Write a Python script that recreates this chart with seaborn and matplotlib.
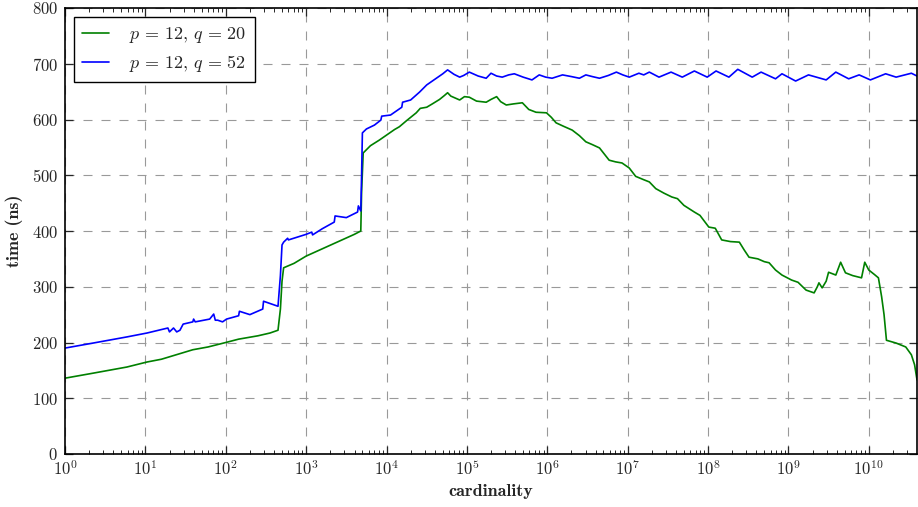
import numpy as np
import pandas as pd
import matplotlib
matplotlib.use("Agg")
import matplotlib.pyplot as plt
import seaborn as sns
from matplotlib.ticker import LogLocator, MultipleLocator

# ---- data (log10 of cardinality, time in ns) ----
green_logx = [0.0, 0.35, 0.77, 1.02, 1.2, 1.59, 1.78, 2.0, 2.16, 2.4, 2.55, 2.65, 2.68, 2.70,
              2.72, 2.85, 3.0, 3.2, 3.4, 3.6, 3.68, 3.69, 3.71, 3.8, 3.91, 4.0, 4.1, 4.16, 4.25,
              4.37, 4.42, 4.5, 4.57, 4.66, 4.72, 4.76, 4.8, 4.91, 4.97, 5.03, 5.12, 5.24, 5.3,
              5.37, 5.42, 5.49, 5.58, 5.69, 5.77, 5.86, 5.99, 6.05, 6.11, 6.2, 6.31, 6.4, 6.48,
              6.56, 6.65, 6.77, 6.85, 6.93, 7.02, 7.1, 7.2, 7.27, 7.35, 7.45, 7.55, 7.62, 7.7,
              7.83, 7.9, 8.01, 8.09, 8.17, 8.28, 8.39, 8.45, 8.51, 8.62, 8.7, 8.76, 8.84, 8.92,
              9.04, 9.12, 9.22, 9.32, 9.36, 9.38, 9.42, 9.47, 9.5, 9.59, 9.65, 9.71, 9.8, 9.91,
              9.95, 10.0, 10.07, 10.12, 10.16, 10.19, 10.22, 10.34, 10.46, 10.53, 10.57, 10.6]
green_y = [136, 145, 156, 165, 170, 187, 192, 200, 206, 212, 217, 222, 260, 310,
           334, 342, 355, 368, 381, 394, 400, 470, 540, 553, 563, 572, 582, 587, 598,
           612, 620, 622, 628, 636, 643, 648, 642, 635, 641, 640, 633, 631, 636,
           641, 632, 626, 628, 630, 618, 613, 612, 604, 594, 588, 581, 571, 560,
           555, 549, 527, 524, 522, 513, 498, 492, 488, 476, 468, 461, 458, 446,
           434, 428, 407, 405, 384, 381, 380, 366, 353, 350, 345, 343, 330, 321,
           312, 308, 294, 289, 300, 307, 298, 310, 326, 321, 344, 325, 320, 316,
           344, 330, 322, 316, 282, 250, 204, 199, 192, 178, 160, 133]

blue_logx = [0.0, 0.35, 0.77, 1.02, 1.28, 1.30, 1.35, 1.39, 1.43, 1.47, 1.59, 1.60, 1.62,
             1.80, 1.85, 1.87, 1.90, 1.96, 2.01, 2.16, 2.17, 2.3, 2.46, 2.47, 2.65, 2.68, 2.70,
             2.72, 2.77, 2.78, 3.0, 3.07, 3.08, 3.2, 3.35, 3.36, 3.5, 3.64, 3.65, 3.68, 3.69,
             3.70, 3.75, 3.85, 3.93, 3.94, 4.05, 4.19, 4.20, 4.3, 4.41, 4.5, 4.6, 4.7, 4.76,
             4.84, 4.91, 4.96, 5.03, 5.14, 5.24, 5.30, 5.37, 5.44, 5.52, 5.59, 5.7, 5.81, 5.9,
             5.98, 6.06, 6.19, 6.3, 6.40, 6.48, 6.56, 6.65, 6.76, 6.86, 6.94, 7.02, 7.14, 7.2,
             7.27, 7.39, 7.54, 7.68, 7.83, 7.99, 8.1, 8.26, 8.37, 8.55, 8.66, 8.84, 8.92,
             9.09, 9.25, 9.47, 9.59, 9.75, 9.88, 10.02, 10.21, 10.34, 10.53, 10.6]
blue_y = [190, 199, 210, 217, 226, 219, 226, 219, 222, 233, 237, 242, 237,
          242, 251, 240, 240, 237, 242, 248, 256, 250, 260, 274, 265, 320, 375,
          380, 387, 384, 394, 398, 393, 404, 416, 427, 424, 434, 445, 436, 500,
          576, 583, 590, 599, 606, 608, 622, 631, 635, 649, 662, 672, 682, 689,
          681, 676, 679, 685, 678, 674, 683, 678, 676, 680, 682, 676, 671, 680,
          676, 674, 680, 677, 674, 680, 677, 674, 679, 685, 680, 676, 683, 680,
          685, 676, 685, 676, 687, 676, 687, 676, 690, 676, 685, 673, 682,
          669, 680, 671, 685, 673, 680, 671, 682, 676, 683, 678]

labels = [r"$p\,=\,12,\, q\,=\,20$", r"$p\,=\,12,\, q\,=\,52$"]

df = pd.concat([
    pd.DataFrame({"cardinality": 10.0 ** np.array(green_logx), "time": green_y, "series": labels[0]}),
    pd.DataFrame({"cardinality": 10.0 ** np.array(blue_logx), "time": blue_y, "series": labels[1]}),
])

sns.set_style("ticks")
plt.rcParams["font.family"] = ["cmr10", "DejaVu Serif"]
plt.rcParams["mathtext.fontset"] = "cm"
plt.rcParams["axes.formatter.use_mathtext"] = True
plt.rcParams["axes.unicode_minus"] = False

fig = plt.figure(figsize=(9.18, 5.07), dpi=100)
ax = fig.add_axes([65 / 918, 1 - 454 / 507, (917 - 65) / 918, (454 - 8) / 507])

sns.lineplot(data=df, x="cardinality", y="time", hue="series",
             palette=["#008000", "#0000ff"], estimator=None, sort=False,
             linewidth=1.2, ax=ax)

ax.set_xscale("log")
ax.set_xlim(1, 10 ** 10.6)
ax.set_ylim(0, 800)
ax.yaxis.set_major_locator(MultipleLocator(100))
ax.xaxis.set_major_locator(LogLocator(base=10, numticks=20))
ax.xaxis.set_minor_locator(LogLocator(base=10, subs=np.arange(2, 10), numticks=50))

ax.grid(True, which="major", linestyle=(0, (8.1, 8.1)), color="#999999", linewidth=0.8)
ax.tick_params(which="both", direction="in", top=True, right=True, labelsize=12)
ax.tick_params(which="major", length=6, width=0.9)
ax.tick_params(which="minor", length=3, width=0.7)
ax.tick_params(axis="y", pad=5)
for s in ax.spines.values():
    s.set_linewidth(1.2)
    s.set_color("black")

ax.set_xlabel("cardinality", fontsize=13, family=["cmb10", "DejaVu Serif"], labelpad=4)
ax.set_ylabel("time (ns)", fontsize=13, family=["cmb10", "DejaVu Serif"], labelpad=6)

leg = ax.legend(loc="upper left", fontsize=13, frameon=True, fancybox=False,
                edgecolor="black", framealpha=1, borderpad=0.45, handlelength=1.5,
                handletextpad=1.1, borderaxespad=0.5, labelspacing=0.45)
leg.get_frame().set_linewidth(1.0)

fig.savefig("out.png", dpi=100, facecolor="white")
